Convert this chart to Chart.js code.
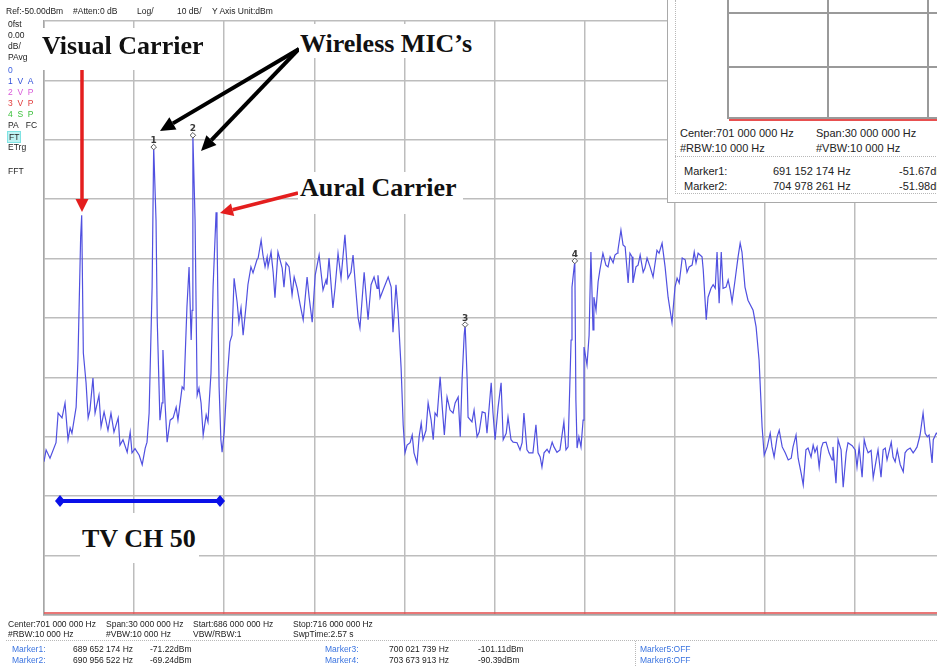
<!DOCTYPE html>
<html>
<head>
<meta charset="utf-8">
<script src="https://cdn.jsdelivr.net/npm/chart.js@4.4.0/dist/chart.umd.min.js"></script>
<style>
  html, body { margin: 0; padding: 0; background: #fff; }
  #screen { position: relative; width: 937px; height: 666px; overflow: hidden; background: #fff;
            font-family: "Liberation Sans", Arial, sans-serif; }
  #plot { position: absolute; left: 0; top: 0; }
  .t { position: absolute; white-space: nowrap; font-size: 8.5px; line-height: 10px; color: #222; }
  .blue { color: #3b74e0; }
  .big { position: absolute; background: #fff; font-family: "Liberation Serif", "Times New Roman", serif;
         font-weight: bold; font-size: 26px; line-height: 26px; color: #111; white-space: nowrap; box-sizing: border-box; }
  .dot { position: absolute; border-top: 1px dotted #b8b8b8; height: 0; }
  .vdot { position: absolute; border-left: 1px dotted #b8b8b8; width: 0; }
  #inset { position: absolute; left: 667px; top: 0; width: 270px; height: 202px; background: #fff;
           border-left: 1px solid #a9a9a9; border-bottom: 1px solid #a9a9a9; }
  .ig { position: absolute; background: #9a9a9a; }
  .it { position: absolute; white-space: nowrap; font-size: 11px; line-height: 12px; color: #222; }
</style>
</head>
<body>
<div id="screen">
  <canvas id="plot" width="960" height="640"></canvas>

  <!-- header -->
  <div class="t" style="left:6px;top:6px">Ref:-50.00dBm</div>
  <div class="t" style="left:73px;top:6px">#Atten:0 dB</div>
  <div class="t" style="left:137px;top:6px">Log/</div>
  <div class="t" style="left:177px;top:6px">10 dB/</div>
  <div class="t" style="left:212px;top:6px">Y Axis Unit:dBm</div>

  <!-- left status column -->
  <div class="t" style="left:8px;top:19px">0fst</div>
  <div class="t" style="left:8px;top:30px">0.00</div>
  <div class="t" style="left:8px;top:41px">dB/</div>
  <div class="t" style="left:8px;top:52px">PAvg</div>
  <div class="t" style="left:8px;top:65px;color:#3b5fe0">0</div>
  <div class="t" style="left:8px;top:76px;color:#3050d8">1&nbsp;&nbsp;V&nbsp;&nbsp;A</div>
  <div class="t" style="left:8px;top:87px;color:#d95ad9">2&nbsp;&nbsp;V&nbsp;&nbsp;P</div>
  <div class="t" style="left:8px;top:98px;color:#e03a3a">3&nbsp;&nbsp;V&nbsp;&nbsp;P</div>
  <div class="t" style="left:8px;top:109px;color:#3cc03c">4&nbsp;&nbsp;S&nbsp;&nbsp;P</div>
  <div class="t" style="left:8px;top:120px">PA&nbsp;&nbsp;&nbsp;FC</div>
  <div class="t" style="left:7px;top:131px;background:#bff3f3;border:1px solid #7fe3e3;padding:0 1px">FT</div>
  <div class="t" style="left:8px;top:142px">ETrg</div>
  <div class="t" style="left:8px;top:166px">FFT</div>

  <!-- annotation labels -->
  <div class="big" style="left:38px;top:28px;width:172px;height:42px;padding:5px 0 0 4px">Visual Carrier</div>
  <div class="big" style="left:299px;top:24px;width:182px;height:34px;padding:7px 0 0 1px">Wireless MIC’s</div>
  <div class="big" style="left:298px;top:172px;width:165px;height:42px;padding:3px 0 0 2px">Aural Carrier</div>
  <div class="big" style="left:80px;top:513px;width:119px;height:50px;padding:13px 0 0 2px">TV CH 50</div>

  <!-- bottom info -->
  <div class="t" style="left:8px;top:619px">Center:701 000 000 Hz</div>
  <div class="t" style="left:106px;top:619px">Span:30 000 000 Hz</div>
  <div class="t" style="left:193px;top:619px">Start:686 000 000 Hz</div>
  <div class="t" style="left:293px;top:619px">Stop:716 000 000 Hz</div>
  <div class="t" style="left:8px;top:629px">#RBW:10 000 Hz</div>
  <div class="t" style="left:106px;top:629px">#VBW:10 000 Hz</div>
  <div class="t" style="left:193px;top:629px">VBW/RBW:1</div>
  <div class="t" style="left:293px;top:629px">SwpTime:2.57 s</div>
  <div class="dot" style="left:6px;top:640px;width:931px"></div>
  <div class="vdot" style="left:635px;top:641px;height:25px"></div>
  <div id="markerTable"></div>

  <!-- zoom window overlay -->
  <div id="inset">
    <div class="vdot" style="left:7px;top:0;height:194px"></div>
    <div class="dot" style="left:7px;top:156px;width:263px"></div>
    <div class="dot" style="left:7px;top:193px;width:263px"></div>
    <div class="ig" style="left:59px;top:0;width:2px;height:119px"></div>
    <div class="ig" style="left:159px;top:0;width:1.5px;height:119px"></div>
    <div class="ig" style="left:259px;top:0;width:1.5px;height:119px"></div>
    <div class="ig" style="left:59px;top:12px;width:211px;height:1.5px"></div>
    <div class="ig" style="left:59px;top:66px;width:211px;height:1.5px"></div>
    <div class="ig" style="left:59px;top:117px;width:211px;height:1.5px"></div>
    <div class="ig" style="left:61px;top:119px;width:209px;height:2px;background:#e85050"></div>
    <div class="it" style="left:12px;top:127px">Center:701 000 000 Hz</div>
    <div class="it" style="left:148px;top:127px">Span:30 000 000 Hz</div>
    <div class="it" style="left:12px;top:142px">#RBW:10 000 Hz</div>
    <div class="it" style="left:148px;top:142px">#VBW:10 000 Hz</div>
    <div id="insetMarkers"></div>
  </div>
</div>

<script>
// trace, frequency in MHz and level in dBm
const freqMHz = [
  686.00, 686.07, 686.20, 686.40, 686.47, 686.60, 686.70, 686.80, 686.87, 686.93,
  687.07, 687.13, 687.22, 687.255, 687.31, 687.40, 687.47, 687.53, 687.63, 687.70,
  687.83, 687.90, 688.00, 688.13, 688.23, 688.33, 688.47, 688.53, 688.63, 688.77,
  688.87, 688.93, 689.03, 689.17, 689.27, 689.37, 689.43, 689.50, 689.60, 689.652,
  689.73, 689.77, 689.86, 689.93, 689.96, 690.03, 690.10, 690.20, 690.30, 690.40,
  690.46, 690.60, 690.66, 690.76, 690.83, 690.90, 690.93, 690.957, 691.03, 691.10,
  691.16, 691.23, 691.30, 691.40, 691.46, 691.56, 691.63, 691.73, 691.76, 691.83,
  691.89, 691.93, 692.00, 692.09, 692.19, 692.26, 692.33, 692.43, 692.49, 692.56,
  692.63, 692.73, 692.79, 692.89, 692.96, 693.09, 693.13, 693.23, 693.29, 693.36,
  693.43, 693.46, 693.56, 693.63, 693.69, 693.79, 693.93, 693.99, 694.06, 694.16,
  694.26, 694.33, 694.43, 694.53, 694.63, 694.76, 694.83, 694.93, 695.03, 695.16,
  695.29, 695.39, 695.42, 695.49, 695.62, 695.69, 695.79, 695.89, 696.02, 696.12,
  696.22, 696.29, 696.36, 696.46, 696.52, 696.66, 696.79, 696.89, 696.99, 697.09,
  697.12, 697.19, 697.29, 697.46, 697.56, 697.62, 697.72, 697.79, 697.89, 697.96,
  698.02, 698.09, 698.19, 698.26, 698.32, 698.42, 698.49, 698.56, 698.62, 698.72,
  698.79, 698.89, 698.96, 699.02, 699.09, 699.19, 699.26, 699.33, 699.42, 699.52,
  699.62, 699.69, 699.79, 699.86, 699.92, 699.99, 700.022, 700.09, 700.12, 700.25,
  700.32, 700.42, 700.49, 700.59, 700.69, 700.75, 700.89, 700.95, 701.02, 701.12,
  701.22, 701.29, 701.39, 701.45, 701.55, 701.62, 701.75, 701.85, 701.92, 701.98,
  702.08, 702.15, 702.28, 702.38, 702.45, 702.52, 702.58, 702.65, 702.75, 702.82,
  702.92, 702.98, 703.08, 703.18, 703.31, 703.38, 703.45, 703.55, 703.58, 703.674,
  703.71, 703.75, 703.81, 703.88, 703.95, 703.98, 704.08, 704.15, 704.21, 704.28,
  704.31, 704.38, 704.45, 704.51, 704.61, 704.71, 704.78, 704.85, 704.95, 705.01,
  705.08, 705.11, 705.21, 705.28, 705.35, 705.45, 705.51, 705.58, 705.61, 705.71,
  705.78, 705.85, 705.95, 706.01, 706.08, 706.18, 706.28, 706.41, 706.48, 706.58,
  706.68, 706.78, 706.91, 707.01, 707.08, 707.15, 707.25, 707.35, 707.41, 707.48,
  707.58, 707.65, 707.71, 707.78, 707.91, 707.95, 708.05, 708.11, 708.21, 708.28,
  708.35, 708.41, 708.48, 708.55, 708.61, 708.71, 708.78, 708.85, 708.91, 709.01,
  709.11, 709.18, 709.24, 709.34, 709.44, 709.61, 709.71, 709.81, 709.91, 709.98,
  710.08, 710.18, 710.24, 710.31, 710.41, 710.48, 710.58, 710.68, 710.78, 710.88,
  710.94, 711.04, 711.11, 711.21, 711.28, 711.37, 711.44, 711.54, 711.61, 711.67,
  711.74, 711.81, 711.88, 711.94, 712.04, 712.14, 712.24, 712.27, 712.37, 712.44,
  712.54, 712.61, 712.71, 712.77, 712.91, 713.01, 713.07, 713.14, 713.24, 713.31,
  713.37, 713.44, 713.54, 713.61, 713.71, 713.77, 713.87, 713.94, 714.01, 714.07,
  714.21, 714.27, 714.34, 714.41, 714.51, 714.61, 714.67, 714.74, 714.84, 714.94,
  715.01, 715.07, 715.17, 715.27, 715.34, 715.41, 715.47, 715.57, 715.61, 715.71, 716.00
];
const levelDbm = [
  -124.2, -122.2, -123.6, -121.0, -116.0, -116.8, -114.3, -120.5, -118.5, -119.4,
  -115.0, -107.1, -86.4, -82.7, -105.9, -110.9, -116.8, -115.5, -110.1, -116.0,
  -113.0, -118.3, -115.8, -118.9, -116.0, -119.2, -116.8, -121.4, -120.5, -122.6,
  -119.2, -122.7, -122.0, -123.1, -124.7, -121.9, -120.9, -116.0, -94.8, -71.22,
  -83.5, -100.3, -117.2, -114.3, -105.4, -114.3, -120.9, -117.2, -116.8, -115.0,
  -117.2, -111.6, -112.0, -98.1, -91.4, -103.7, -98.7, -69.24, -83.5, -113.0,
  -111.8, -114.3, -119.7, -116.3, -117.5, -109.3, -94.8, -82.2, -85.7, -111.6,
  -120.5, -122.6, -119.2, -110.8, -104.0, -102.9, -93.3, -97.3, -100.7, -98.3,
  -102.9, -97.8, -94.4, -91.4, -92.4, -90.2, -89.9, -86.9, -89.4, -91.4,
  -89.7, -91.4, -88.9, -92.3, -96.6, -88.9, -91.6, -94.8, -90.7, -91.4,
  -96.1, -93.1, -95.0, -97.8, -100.3, -93.1, -96.6, -100.7, -92.8, -89.4,
  -95.3, -93.6, -94.4, -89.9, -98.3, -95.0, -89.1, -93.3, -86.0, -93.3,
  -92.3, -89.4, -93.9, -100.0, -101.7, -92.3, -100.3, -94.4, -93.1, -95.0,
  -92.8, -96.6, -95.3, -93.1, -94.8, -102.4, -94.4, -99.0, -108.4, -118.0,
  -122.7, -121.4, -121.0, -119.7, -122.7, -124.4, -120.0, -117.7, -120.5, -118.9,
  -114.3, -117.2, -120.5, -116.0, -116.5, -109.9, -115.0, -119.7, -113.3, -115.5,
  -116.0, -114.3, -113.3, -120.0, -110.4, -102.9, -101.11, -110.4, -116.7, -117.5,
  -115.5, -120.0, -119.2, -115.8, -116.0, -119.4, -110.9, -116.0, -120.5, -115.0,
  -110.9, -120.5, -119.4, -116.7, -120.5, -120.9, -121.0, -122.2, -121.0, -116.0,
  -122.2, -122.7, -122.7, -118.0, -122.7, -123.4, -125.1, -122.7, -122.1, -122.7,
  -120.9, -121.7, -122.6, -122.2, -117.5, -122.2, -121.7, -103.7, -94.8, -90.39,
  -113.8, -121.9, -120.0, -121.7, -117.2, -104.9, -107.9, -102.9, -88.9, -102.0,
  -96.5, -98.7, -93.9, -91.9, -89.1, -91.1, -91.4, -89.7, -90.7, -89.4,
  -89.1, -88.6, -85.2, -87.7, -88.0, -94.1, -89.1, -89.7, -94.1, -91.4,
  -91.1, -89.4, -92.3, -91.6, -89.9, -91.4, -93.1, -88.6, -89.1, -87.4,
  -91.4, -96.5, -100.8, -94.8, -93.3, -94.1, -89.9, -90.2, -92.3, -91.4,
  -91.1, -88.9, -90.7, -89.1, -89.7, -91.9, -100.3, -96.5, -95.0, -94.4,
  -95.0, -88.9, -97.5, -88.9, -95.0, -94.8, -93.6, -95.3, -97.3, -93.6,
  -89.7, -87.4, -88.9, -94.8, -97.0, -98.7, -101.5, -107.1, -118.3, -123.1,
  -121.7, -119.4, -121.7, -123.4, -120.0, -118.9, -121.7, -122.7, -123.9, -123.6,
  -121.7, -119.7, -123.6, -126.1, -128.1, -122.2, -121.9, -123.4, -121.4, -122.6,
  -121.7, -125.1, -121.9, -121.0, -120.9, -122.7, -123.9, -121.7, -127.8, -120.5,
  -122.2, -128.5, -122.7, -121.0, -121.5, -122.2, -125.1, -121.7, -126.8, -120.5,
  -121.7, -122.7, -122.3, -126.9, -123.9, -122.2, -126.8, -122.2, -121.9, -123.9,
  -120.9, -123.4, -124.2, -122.2, -124.7, -125.9, -122.7, -122.2, -121.9, -122.7,
  -122.2, -121.7, -119.7, -116.0, -119.4, -120.0, -119.7, -124.4, -120.5, -119.4, -120.5
];

const xTickMHz = [686, 689, 692, 695, 698, 701, 704, 707, 710, 713, 716];
const yTickDbm = [-150, -140, -130, -120, -110, -100, -90, -80, -70, -60, -50];
const limitDbm = -149.66;

const markerNames = ['1', '2', '3', '4'];
const markerHz = [689652174, 690956522, 700021739, 703673913];
const markerDbm = [-71.22, -69.24, -101.11, -90.39];

const insetMarkerHz = [691152174, 704978261];
const insetMarkerDbm = [-51.67, -51.98];

// annotations, in MHz / dBm
const redArrows = [
  { from: [687.265, -58.25], to: [687.265, -82.15] },
  { from: [694.457, -78.96], to: [691.860, -82.32] }
];
const blackArrows = [
  { from: [694.49, -54.71], to: [689.862, -68.52] },
  { from: [694.49, -54.71], to: [691.228, -71.89] }
];
const channelStartMHz = 686.533;
const channelEndMHz = 691.860;
const channelBarDbm = -130.81;

const fmtHz = n => String(n).replace(/\B(?=(\d{3})+(?!\d))/g, ' ') + ' Hz';
const fmtDbm = v => v.toFixed(2) + 'dBm';

// bottom marker table
let rows = '';
const rowTop = [644, 655];
const colLeft = [[12, 73, 150], [325, 389, 478]];
markerHz.forEach((hz, i) => {
  const col = colLeft[Math.floor(i / 2)], top = rowTop[i % 2];
  rows += `<div class="t blue" style="left:${col[0]}px;top:${top}px">Marker${i + 1}:</div>`;
  rows += `<div class="t" style="left:${col[1]}px;top:${top}px">${fmtHz(hz)}</div>`;
  rows += `<div class="t" style="left:${col[2]}px;top:${top}px">${fmtDbm(markerDbm[i])}</div>`;
});
rows += `<div class="t blue" style="left:640px;top:644px">Marker5:OFF</div>`;
rows += `<div class="t blue" style="left:640px;top:655px">Marker6:OFF</div>`;
document.getElementById('markerTable').innerHTML = rows;

let irows = '';
insetMarkerHz.forEach((hz, i) => {
  const top = 165 + i * 15;
  irows += `<div class="it blue" style="left:16px;top:${top}px">Marker${i + 1}:</div>`;
  irows += `<div class="it" style="left:105px;top:${top}px">${fmtHz(hz)}</div>`;
  irows += `<div class="it" style="left:231px;top:${top}px">${fmtDbm(insetMarkerDbm[i])}</div>`;
});
document.getElementById('insetMarkers').innerHTML = irows;

function arrow(ctx, x1, y1, x2, y2, color, w, len, hw) {
  const a = Math.atan2(y2 - y1, x2 - x1);
  const bx = x2 - len * Math.cos(a), by = y2 - len * Math.sin(a);
  ctx.strokeStyle = color; ctx.fillStyle = color; ctx.lineWidth = w; ctx.lineCap = 'butt';
  ctx.beginPath(); ctx.moveTo(x1, y1); ctx.lineTo(bx, by); ctx.stroke();
  ctx.beginPath();
  ctx.moveTo(x2, y2);
  ctx.lineTo(bx + hw * Math.sin(a), by - hw * Math.cos(a));
  ctx.lineTo(bx - hw * Math.sin(a), by + hw * Math.cos(a));
  ctx.closePath(); ctx.fill();
}

const overlay = {
  id: 'overlay',
  afterDatasetsDraw(chart) {
    const { ctx, scales: { x, y } } = chart;
    ctx.save();
    const px = p => [x.getPixelForValue(p[0]), y.getPixelForValue(p[1])];
    redArrows.forEach(a => {
      const [x1, y1] = px(a.from), [x2, y2] = px(a.to);
      arrow(ctx, x1, y1, x2, y2, '#e41e1e', 3.5, 13, 6.5);
    });
    blackArrows.forEach(a => {
      const [x1, y1] = px(a.from), [x2, y2] = px(a.to);
      arrow(ctx, x1, y1, x2, y2, '#000', 4, 15, 7);
    });
    // channel span bar
    const xa = x.getPixelForValue(channelStartMHz), xb = x.getPixelForValue(channelEndMHz);
    const yb = y.getPixelForValue(channelBarDbm);
    ctx.strokeStyle = '#0a10e8'; ctx.fillStyle = '#0a10e8'; ctx.lineWidth = 4;
    ctx.beginPath(); ctx.moveTo(xa, yb); ctx.lineTo(xb, yb); ctx.stroke();
    [xa, xb].forEach(cx => {
      ctx.beginPath();
      ctx.moveTo(cx, yb - 6); ctx.lineTo(cx + 5, yb); ctx.lineTo(cx, yb + 6); ctx.lineTo(cx - 5, yb);
      ctx.closePath(); ctx.fill();
    });
    // marker numbers
    ctx.fillStyle = '#3a3a3a';
    ctx.font = 'bold 9px "DejaVu Sans", sans-serif';
    ctx.textAlign = 'center';
    ctx.textBaseline = 'alphabetic';
    markerHz.forEach((hz, i) => {
      ctx.fillText(markerNames[i], x.getPixelForValue(hz / 1e6), y.getPixelForValue(markerDbm[i]) - 4);
    });
    ctx.restore();
  }
};

const gridStyle = { color: '#bdbdbd', lineWidth: 1.5, drawTicks: false };
const borderStyle = { color: '#a6a6a6', width: 1.5 };

new Chart(document.getElementById('plot').getContext('2d'), {
  type: 'line',
  data: {
    datasets: [
      {
        type: 'scatter',
        data: markerHz.map((hz, i) => ({ x: hz / 1e6, y: markerDbm[i] })),
        pointStyle: 'rectRot', pointRadius: 2.8, borderWidth: 1,
        backgroundColor: '#fff', borderColor: '#555', order: 0
      },
      {
        data: freqMHz.map((f, i) => ({ x: f, y: levelDbm[i] })),
        borderColor: '#5050e0', borderWidth: 1.2, pointRadius: 0, tension: 0, order: 1
      },
      {
        data: [{ x: xTickMHz[0], y: limitDbm }, { x: xTickMHz[xTickMHz.length - 1], y: limitDbm }],
        borderColor: '#e24a4a', borderWidth: 1.5, pointRadius: 0, order: 2
      }
    ]
  },
  options: {
    responsive: false,
    animation: false,
    events: [],
    layout: { padding: { left: 44, top: 21, right: 15, bottom: 25 } },
    plugins: { legend: { display: false }, tooltip: { enabled: false } },
    scales: {
      x: {
        type: 'linear', min: 686, max: 716,
        afterBuildTicks: s => { s.ticks = xTickMHz.map(v => ({ value: v })); },
        afterFit: s => { s.height = 0; },
        ticks: { display: false },
        grid: gridStyle, border: borderStyle
      },
      y: {
        type: 'linear', min: -150, max: -50,
        afterBuildTicks: s => { s.ticks = yTickDbm.map(v => ({ value: v })); },
        afterFit: s => { s.width = 0; },
        ticks: { display: false },
        grid: gridStyle, border: borderStyle
      }
    }
  },
  plugins: [overlay]
});
</script>
</body>
</html>
